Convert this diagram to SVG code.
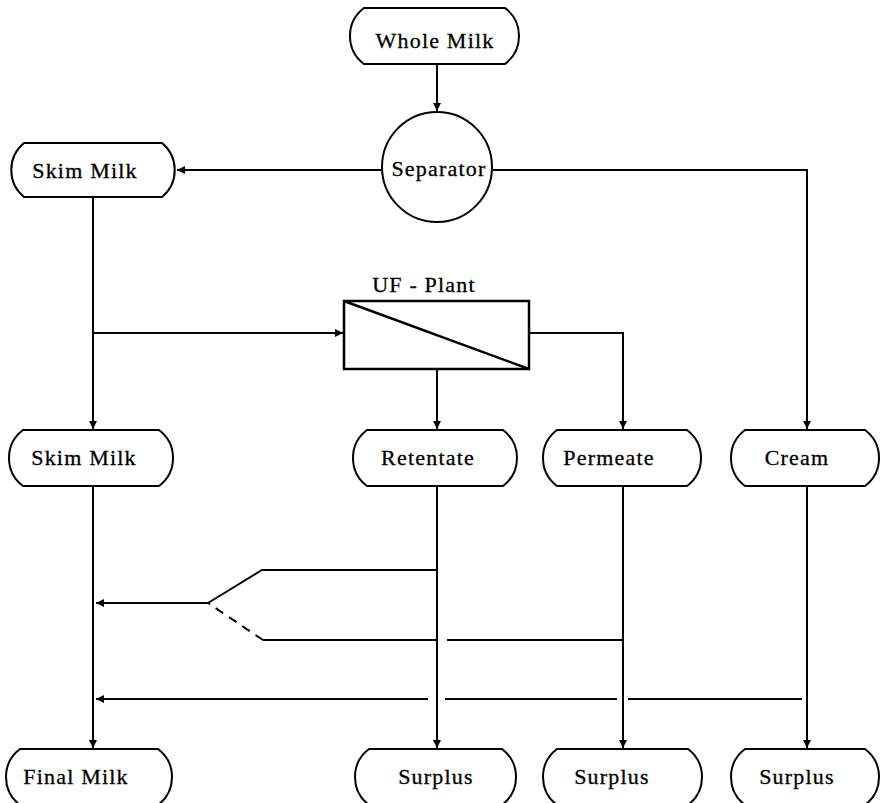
<svg xmlns="http://www.w3.org/2000/svg" width="882" height="803" viewBox="0 0 882 803">
  <style>
    .node { fill: #fff; stroke: #000; stroke-width: 2; }
    .lbl { font-family: "Liberation Serif", "DejaVu Serif", "Times New Roman", serif; font-size: 22px; letter-spacing: 1.2px; fill: #000; stroke: #000; stroke-width: 0.3; text-anchor: middle; }
    .ln { fill: none; stroke: #000; stroke-width: 2; }
    .dash { fill: none; stroke: #000; stroke-width: 2; stroke-dasharray: 9 7; }
  </style>
  <defs>
    <marker id="arr" viewBox="0 0 10 10" refX="10" refY="5" markerWidth="10" markerHeight="8" markerUnits="userSpaceOnUse" orient="auto">
      <path d="M0,0 L10,5 L0,10 Z" fill="#000"/>
    </marker>
  </defs>
  <rect width="882" height="803" fill="#fff"/>

  <!-- connectors -->
  <g id="connectors">
    <line class="ln" x1="437" y1="64" x2="437" y2="111" marker-end="url(#arr)"/>
    <line class="ln" x1="381" y1="170" x2="177" y2="170" marker-end="url(#arr)"/>
    <polyline class="ln" points="493,170 807,170 807,429" marker-end="url(#arr)"/>
    <line class="ln" x1="93" y1="197" x2="93" y2="429" marker-end="url(#arr)"/>
    <line class="ln" x1="93" y1="333" x2="343" y2="333" marker-end="url(#arr)"/>
    <line class="ln" x1="437" y1="369" x2="437" y2="429" marker-end="url(#arr)"/>
    <polyline class="ln" points="529,333 623,333 623,429" marker-end="url(#arr)"/>
    <line class="ln" x1="93" y1="486" x2="93" y2="748" marker-end="url(#arr)"/>
    <line class="ln" x1="437" y1="486" x2="437" y2="748" marker-end="url(#arr)"/>
    <line class="ln" x1="623" y1="486" x2="623" y2="748" marker-end="url(#arr)"/>
    <line class="ln" x1="807" y1="486" x2="807" y2="748" marker-end="url(#arr)"/>
    <!-- retentate / permeate branch -->
    <polyline class="ln" points="437,570 262,570 208,603"/>
    <line class="ln" x1="437" y1="640" x2="263" y2="640"/>
    <line class="ln" x1="447" y1="640" x2="623" y2="640"/>
    <line class="dash" x1="263" y1="640" x2="208" y2="603"/>
    <line class="ln" x1="208" y1="603" x2="96" y2="603" marker-end="url(#arr)"/>
    <!-- cream return line -->
    <line class="ln" x1="802" y1="699" x2="628" y2="699"/>
    <line class="ln" x1="617" y1="699" x2="445" y2="699"/>
    <line class="ln" x1="428" y1="699" x2="96" y2="699" marker-end="url(#arr)"/>
  </g>

  <!-- nodes -->
  <g id="whole-milk">
    <path class="node" d="M364,8 H505 A35,35 0 0 1 505,64 H364 A35,35 0 0 1 364,8 Z"/>
    <text class="lbl" x="435" y="48">Whole Milk</text>
  </g>
  <g id="separator">
    <circle class="node" cx="437" cy="167" r="55"/>
    <text class="lbl" x="439" y="176">Separator</text>
  </g>
  <g id="skim-milk-1">
    <path class="node" d="M24,143 H162 A35,35 0 0 1 162,197 H24 A35,35 0 0 1 24,143 Z"/>
    <text class="lbl" x="85" y="178">Skim Milk</text>
  </g>
  <g id="uf-plant">
    <rect x="344" y="301" width="185" height="68" fill="#fff" stroke="#000" stroke-width="2.5"/>
    <line x1="344" y1="301" x2="529" y2="369" stroke="#000" stroke-width="2.5"/>
    <text class="lbl" x="424" y="292">UF - Plant</text>
  </g>
  <g id="skim-milk-2">
    <path class="node" d="M23,430 H159 A35,35 0 0 1 159,486 H23 A35,35 0 0 1 23,430 Z"/>
    <text class="lbl" x="84" y="465">Skim Milk</text>
  </g>
  <g id="retentate">
    <path class="node" d="M367,430 H503 A35,35 0 0 1 503,486 H367 A35,35 0 0 1 367,430 Z"/>
    <text class="lbl" x="428" y="465">Retentate</text>
  </g>
  <g id="permeate">
    <path class="node" d="M557,430 H687 A35,35 0 0 1 687,486 H557 A35,35 0 0 1 557,430 Z"/>
    <text class="lbl" x="609" y="465">Permeate</text>
  </g>
  <g id="cream">
    <path class="node" d="M745,430 H865 A35,35 0 0 1 865,486 H745 A35,35 0 0 1 745,430 Z"/>
    <text class="lbl" x="797" y="465">Cream</text>
  </g>
  <g id="final-milk">
    <path class="node" d="M20,749 H158 A35,35 0 0 1 158,805 H20 A35,35 0 0 1 20,749 Z"/>
    <text class="lbl" x="76" y="784">Final Milk</text>
  </g>
  <g id="surplus-1">
    <path class="node" d="M369,749 H502 A35,35 0 0 1 502,805 H369 A35,35 0 0 1 369,749 Z"/>
    <text class="lbl" x="436" y="784">Surplus</text>
  </g>
  <g id="surplus-2">
    <path class="node" d="M557,749 H688 A35,35 0 0 1 688,805 H557 A35,35 0 0 1 557,749 Z"/>
    <text class="lbl" x="612" y="784">Surplus</text>
  </g>
  <g id="surplus-3">
    <path class="node" d="M745,749 H865 A35,35 0 0 1 865,805 H745 A35,35 0 0 1 745,749 Z"/>
    <text class="lbl" x="797" y="784">Surplus</text>
  </g>
</svg>
